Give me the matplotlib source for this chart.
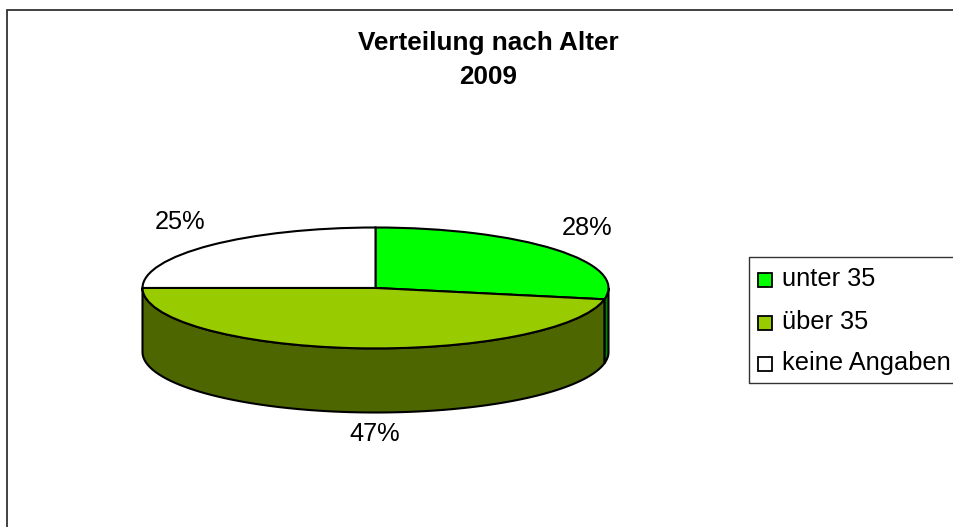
import numpy as np
from matplotlib import pyplot as plt
from matplotlib.patches import Rectangle

plt.rcParams['font.family'] = ['Liberation Sans', 'DejaVu Sans']

labels = ['unter 35', 'über 35', 'keine Angaben']
values = [28, 47, 25]
top_colors = ['#00FF00', '#99CC00', '#FFFFFF']
side_colors = ['#008000', '#4D6600', '#808080']
title = 'Verteilung nach Alter\n2009'

W, H = 954, 527
depth = 1.06
edge_lw = 1.5

fig = plt.figure(figsize=(W / 100, H / 100), dpi=100, facecolor='white')

# overlay in pixel coords for frame, legend, text
bg = fig.add_axes([0, 0, 1, 1])
bg.set_xlim(0, W)
bg.set_ylim(H, 0)
bg.set_axis_off()
bg.plot([7, 7, W], [H, 10, 10], color='#333333', lw=1.3, solid_joinstyle='miter')
bg.text(488, 60, title, ha='center', va='center', fontsize=18.8, fontweight='bold',
        linespacing=1.48, color='black')

# pie axes: x -1..1 and y 1..-1-depth squashed to the ellipse
x0, x1 = 142.5, 608.5
y0, y1 = 227.5, 412.5
pie_ax = fig.add_axes([x0 / W, 1 - y1 / H, (x1 - x0) / W, (y1 - y0) / H])

fracs = np.array(values) / sum(values)
ends = np.cumsum(fracs) * 360
starts = ends - fracs * 360
# side wall, only the front half of the disc shows
for s, e, col in zip(starts, ends, side_colors):
    a = max(s, 90)
    b = min(e, 270)
    if b <= a:
        continue
    t = np.radians(np.linspace(a, b, 120))
    xs = np.sin(t)
    ys = np.cos(t)
    pie_ax.fill(np.r_[xs, xs[::-1]], np.r_[ys, ys[::-1] - depth], facecolor=col,
                edgecolor='black', lw=edge_lw, clip_on=False)

pie_ax.pie(values, colors=top_colors, startangle=90, counterclock=False, radius=1,
           wedgeprops={'edgecolor': 'black', 'linewidth': edge_lw, 'clip_on': False})
pie_ax.set_aspect('auto')
pie_ax.set_xlim(-1, 1)
pie_ax.set_ylim(-1 - depth, 1)
pie_ax.set_axis_off()

# percent labels
label_pos = [(587, 228), (375, 434), (180, 222)]
for v, (px, py) in zip(values, label_pos):
    bg.text(px, py, f'{v}%', ha='center', va='center', fontsize=18.3, color='black')
bg.set_zorder(3)

# legend box runs off the right edge
bg.plot([W, 749, 749, W], [257, 257, 383, 383], color='#333333', lw=1.0)
leg_y = [279, 322, 363]
for lab, col, ly in zip(labels, top_colors, leg_y):
    bg.add_patch(Rectangle((758, ly - 6), 14, 14, facecolor=col, edgecolor='black', lw=1.3))
    bg.text(782, ly, lab, ha='left', va='center', fontsize=18.3, color='black')

fig.savefig('out.png', dpi=100)
